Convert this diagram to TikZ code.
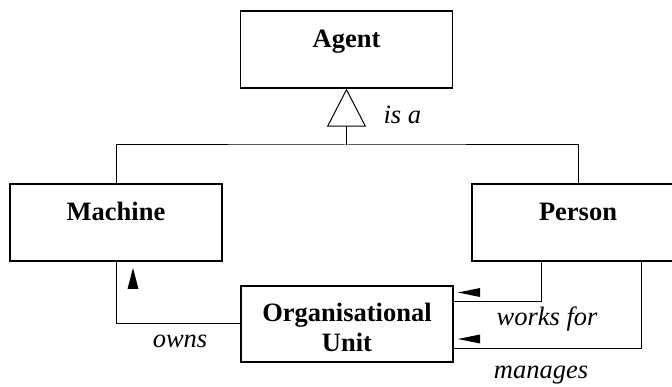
\documentclass[tikz,border=0pt]{standalone}
\usepackage{fontspec}
\setmainfont{Liberation Serif}[ItalicFont={Liberation Serif Italic},BoldFont={Liberation Serif Bold}]
\usepackage{tikz}
\usetikzlibrary{arrows.meta}

\begin{document}
\begin{tikzpicture}[x=1pt,y=-1pt,line width=1pt,
    umlclass/.style={draw=black,line width=1.2pt,minimum width=212pt,inner sep=0pt,
        text height=37pt,text depth=40pt,align=center,
        font=\fontsize{26.5}{30}\selectfont\bfseries},
    role/.style={inner sep=0pt,anchor=base,font=\fontsize{26.5}{30}\selectfont\itshape},
    marker/.style={fill=black,draw=none}]

    \clip (0,0) rectangle (672,387);

    % Class nodes
    \node[umlclass] (Agent) at (346.5,49.5) {Agent};
    \node[umlclass] (Machine) at (116,222.5) {Machine};
    \node[umlclass] (Person) at (578,222.5) {Person};
    \node[umlclass,text height=66pt,text depth=10pt] (OrgUnit) at (347,324) {Organisational\\Unit};

    % Generalisation
    \coordinate (hub) at (346.5,145);
    \draw (Machine.north) |- (hub) -| (Person.north);
    \draw[-{Triangle[open,length=38pt,width=39pt]}] (hub) -- (Agent.south);
    \node[role,anchor=base west] (isa) at (383,124) {is a};

    % Associations
    \draw (OrgUnit.west) -| (Machine.south);
    \draw ([xshift=-37pt]Person.south) |- ([yshift=22pt]OrgUnit.east);
    \draw ([xshift=63pt]Person.south) |- ([yshift=-24pt]OrgUnit.east);

    % Direction markers
    \fill[marker] (133,268) -- (138.5,289) -- (127.5,289) -- cycle;
    \fill[marker] (458,292.5) -- (480,288) -- (480,297) -- cycle;
    \fill[marker] (458,339) -- (480,334.5) -- (480,343.5) -- cycle;

    % Role labels
    \node[role] (owns) at (180,347) {owns};
    \node[role] (worksfor) at (547,326) {works for};
    \node[role] (manages) at (541,378) {manages};

\end{tikzpicture}
\end{document}
